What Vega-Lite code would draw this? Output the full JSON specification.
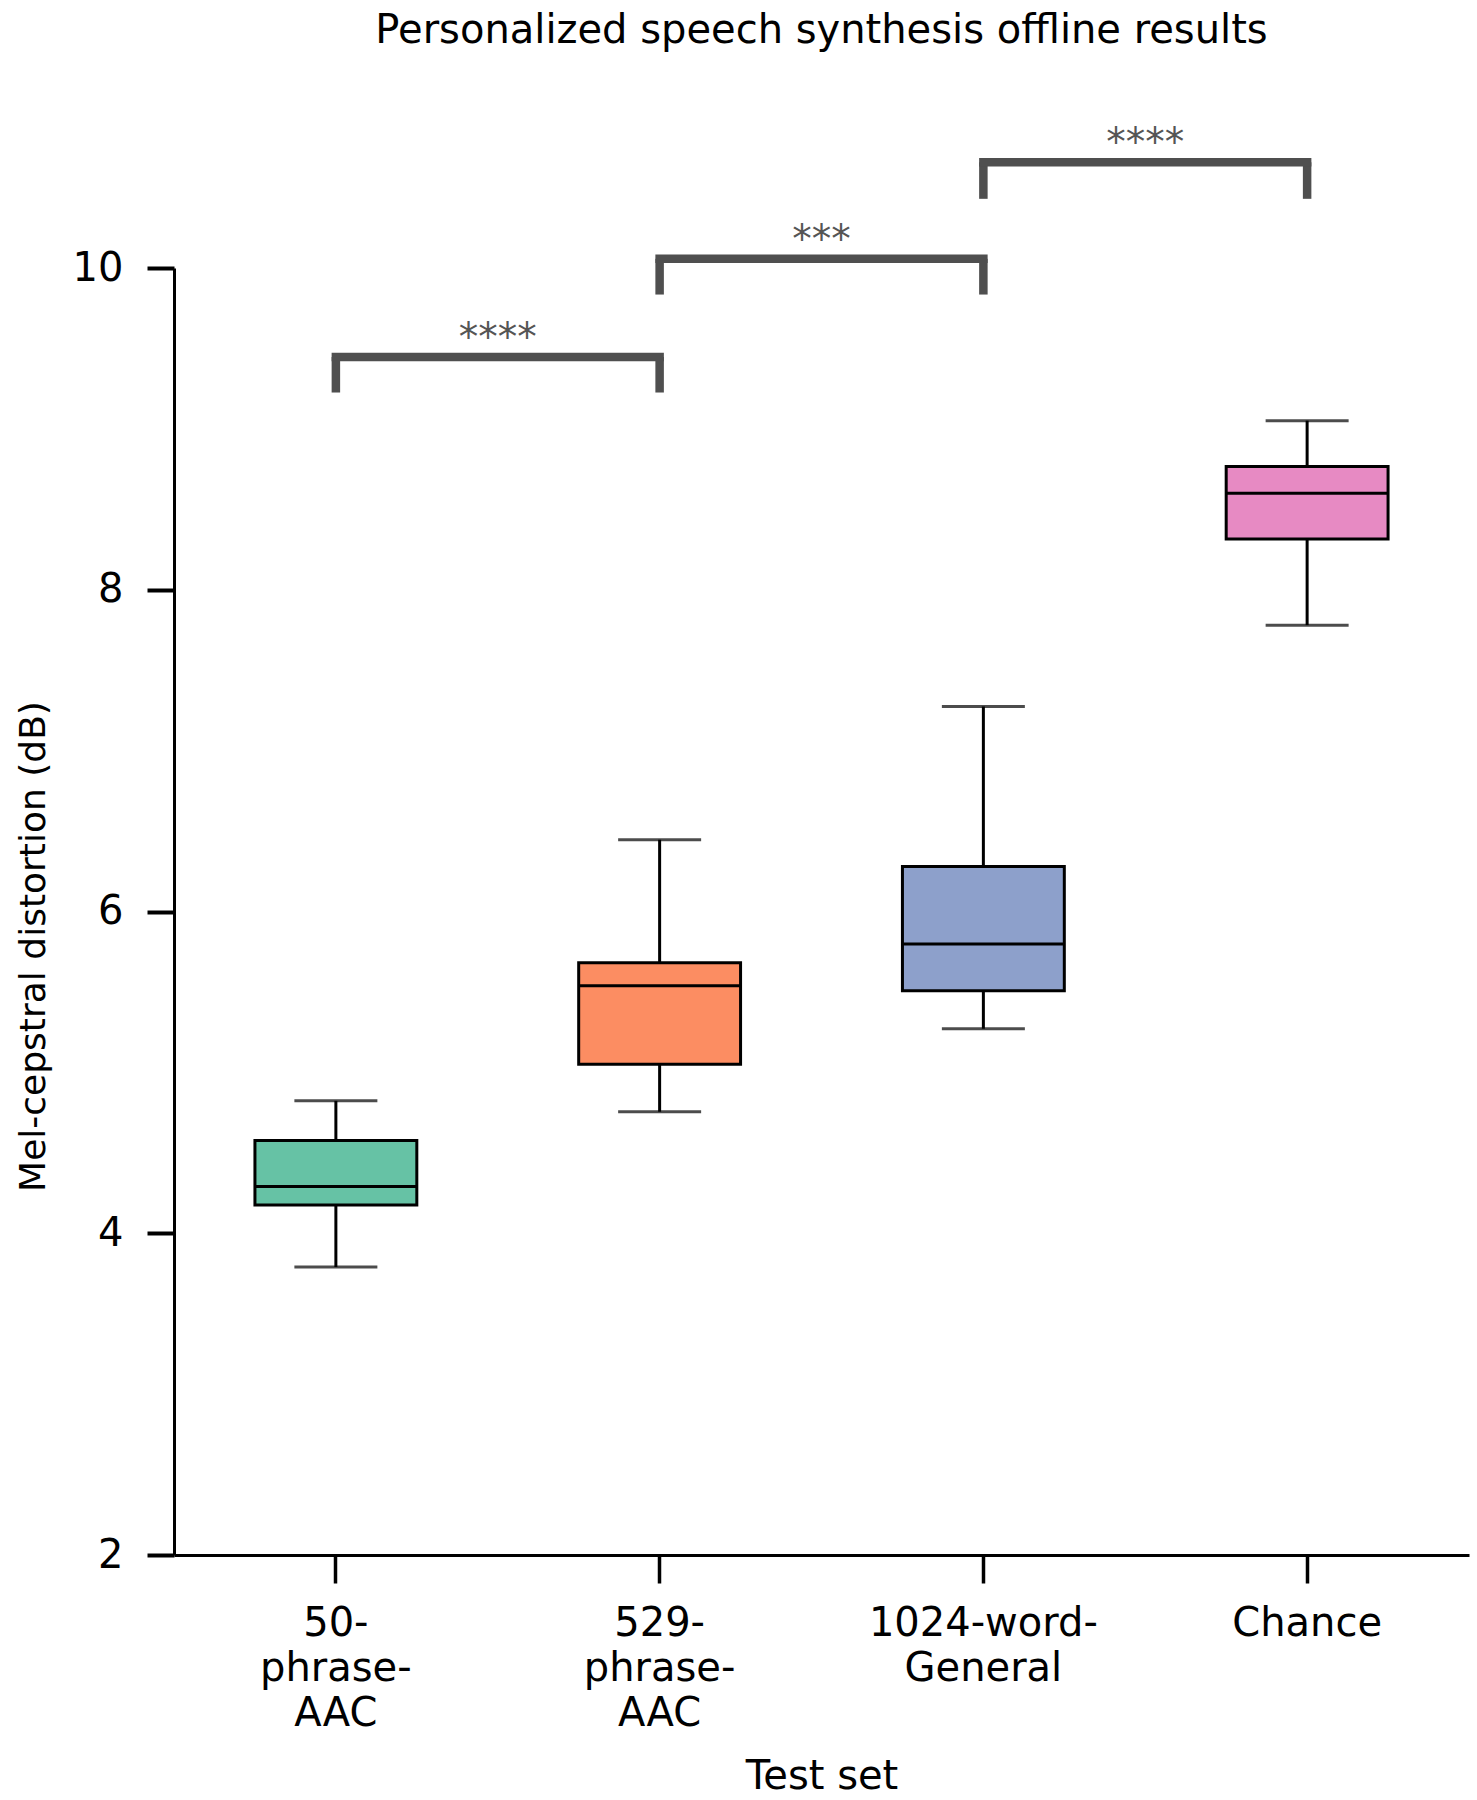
{
  "$schema": "https://vega.github.io/schema/vega-lite/v6.json",
  "autosize": "none",
  "width": 1295,
  "height": 1287,
  "padding": {"left": 174, "top": 268, "right": 8, "bottom": 245},
  "background": "white",
  "config": {
    "font": "DejaVu Sans",
    "view": {"stroke": null},
    "axis": {"grid": false, "domainColor": "black", "tickColor": "black", "labelColor": "black", "titleColor": "black", "labelFont": "DejaVu Sans", "titleFont": "DejaVu Sans", "titleFontWeight": "normal"}
  },
  "title": {
    "text": "Personalized speech synthesis offline results",
    "fontSize": 40,
    "fontWeight": "normal",
    "font": "DejaVu Sans",
    "color": "black",
    "anchor": "middle",
    "baseline": "alphabetic",
    "offset": 41
  },
  "datasets": {
    "boxes": [
      {"set": "50-phrase-AAC", "lo": 3.79, "q1": 4.176, "med": 4.29, "q3": 4.577, "hi": 4.823},
      {"set": "529-phrase-AAC", "lo": 4.755, "q1": 5.05, "med": 5.539, "q3": 5.682, "hi": 6.446},
      {"set": "1024-word-General", "lo": 5.271, "q1": 5.507, "med": 5.798, "q3": 6.28, "hi": 7.275},
      {"set": "Chance", "lo": 7.78, "q1": 8.316, "med": 8.6, "q3": 8.766, "hi": 9.051}
    ],
    "brackets": [
      {"a": "50-phrase-AAC", "b": "529-phrase-AAC", "top": 9.447, "bottom": 9.226, "label": "****"},
      {"a": "529-phrase-AAC", "b": "1024-word-General", "top": 10.057, "bottom": 9.835, "label": "***"},
      {"a": "1024-word-General", "b": "Chance", "top": 10.657, "bottom": 10.43, "label": "****"}
    ]
  },
  "encoding": {
    "x": {
      "field": "set",
      "type": "nominal",
      "sort": ["50-phrase-AAC", "529-phrase-AAC", "1024-word-General", "Chance"],
      "scale": {"type": "band", "domain": ["50-phrase-AAC", "529-phrase-AAC", "1024-word-General", "Chance"], "paddingInner": 0, "paddingOuter": 0},
      "axis": {
        "title": "Test set",
        "titleFontSize": 40,
        "titleBaseline": "alphabetic",
        "titleY": 233,
        "labelFontSize": 40,
        "labelAngle": 0,
        "labelLineHeight": 45,
        "labelPadding": 20,
        "labelLimit": 0,
        "labelExpr": "datum.value == '50-phrase-AAC' ? ['50-', 'phrase-', 'AAC'] : datum.value == '529-phrase-AAC' ? ['529-', 'phrase-', 'AAC'] : datum.value == '1024-word-General' ? ['1024-word-', 'General'] : datum.value",
        "tickSize": 28,
        "tickWidth": 3.5,
        "domainWidth": 3,
        "labelOverlap": false
      }
    }
  },
  "layer": [
    {
      "data": {"name": "boxes"},
      "mark": {"type": "rule", "color": "black", "strokeWidth": 3},
      "encoding": {
        "y": {
          "field": "lo",
          "type": "quantitative",
          "scale": {"domain": [2, 10], "nice": false, "zero": false},
          "axis": {
            "title": "Mel-cepstral distortion (dB)",
            "titleFontSize": 36,
            "titleAngle": -90,
            "titleX": -130,
            "titleY": 678,
            "titleAlign": "center",
            "titleBaseline": "alphabetic",
            "values": [2, 4, 6, 8, 10],
            "format": "d",
            "labelFontSize": 40,
            "labelPadding": 24,
            "tickSize": 27,
            "tickWidth": 4,
            "domainWidth": 3
          }
        },
        "y2": {"field": "hi"}
      }
    },
    {
      "data": {"name": "boxes"},
      "mark": {"type": "tick", "color": "black", "size": 83, "thickness": 3},
      "encoding": {"y": {"field": "lo", "type": "quantitative"}}
    },
    {
      "data": {"name": "boxes"},
      "mark": {"type": "tick", "color": "black", "size": 83, "thickness": 3},
      "encoding": {"y": {"field": "hi", "type": "quantitative"}}
    },
    {
      "data": {"name": "boxes"},
      "mark": {"type": "bar", "stroke": "black", "strokeWidth": 3, "width": {"band": 0.5}, "opacity": 1},
      "encoding": {
        "y": {"field": "q1", "type": "quantitative"},
        "y2": {"field": "q3"},
        "color": {
          "field": "set",
          "type": "nominal",
          "scale": {"domain": ["50-phrase-AAC", "529-phrase-AAC", "1024-word-General", "Chance"], "range": ["#66c2a5", "#fc8d62", "#8da0cb", "#e78ac3"]},
          "legend": null
        }
      }
    },
    {
      "data": {"name": "boxes"},
      "mark": {"type": "tick", "color": "black", "size": 162, "thickness": 3, "opacity": 1},
      "encoding": {"y": {"field": "med", "type": "quantitative"}}
    },
    {
      "data": {"name": "brackets"},
      "transform": [{"fold": ["a", "b"], "as": ["end", "cat"]}],
      "mark": {"type": "rule", "color": "#4f4f4f", "strokeWidth": 8.5, "strokeCap": "butt"},
      "encoding": {
        "x": {"field": "cat", "type": "nominal", "bandPosition": 0.5},
        "y": {"field": "bottom", "type": "quantitative"},
        "y2": {"field": "top"}
      }
    },
    {
      "data": {"name": "brackets"},
      "mark": {"type": "rule", "color": "#4f4f4f", "strokeWidth": 8.5, "strokeCap": "square"},
      "encoding": {
        "x": {"field": "a", "type": "nominal", "bandPosition": 0.5},
        "x2": {"field": "b", "bandPosition": 0.5},
        "y": {"field": "top", "type": "quantitative"}
      }
    },
    {
      "data": {"name": "brackets"},
      "mark": {"type": "text", "color": "#555555", "fontSize": 39, "baseline": "alphabetic", "align": "center", "dy": -7, "font": "DejaVu Sans"},
      "encoding": {
        "x": {"field": "a", "type": "nominal", "bandPosition": 1},
        "y": {"field": "top", "type": "quantitative"},
        "text": {"field": "label"}
      }
    }
  ]
}
